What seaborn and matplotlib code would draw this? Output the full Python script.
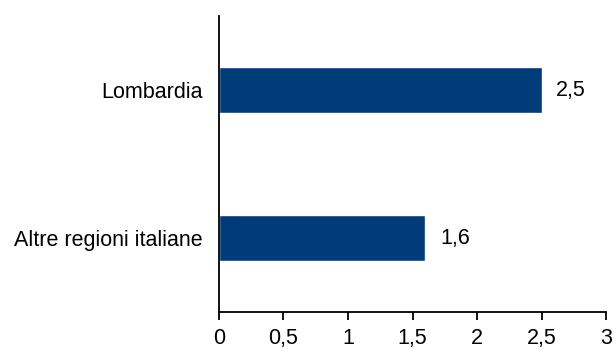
import matplotlib
matplotlib.use("Agg")
import matplotlib.pyplot as plt
import seaborn as sns
import pandas as pd
from matplotlib.ticker import FuncFormatter

# data
regions = ["Lombardia", "Altre regioni italiane"]
values = [2.5, 1.6]
value_labels = ["2,5", "1,6"]

df = pd.DataFrame({"region": regions, "value": values})

sns.set_style("white")
plt.rcParams['font.family'] = ['Liberation Sans', 'DejaVu Sans']
plt.rcParams['text.color'] = 'black'
plt.rcParams['xtick.color'] = 'black'
plt.rcParams['ytick.color'] = 'black'

fig = plt.figure(figsize=(6.16, 3.49), dpi=100)
ax = fig.add_axes([0.3555, 0.106, 0.6283, 0.848])

sns.barplot(data=df, x="value", y="region", color="#003B7A",
            width=0.31, saturation=1, ax=ax)

for p, lab in zip(ax.patches, value_labels):
    ax.annotate(lab, (p.get_width(), p.get_y() + p.get_height() / 2),
                xytext=(10.5, 0), textcoords="offset points",
                ha="left", va="center", fontsize=15.5, color="black")

ax.set_xlim(0, 3)
ax.set_ylim(1.5, -0.5)
ax.set_xticks([0, 0.5, 1, 1.5, 2, 2.5, 3])
ax.xaxis.set_major_formatter(FuncFormatter(lambda v, _: f"{v:g}".replace(".", ",")))
ax.set_xlabel("")
ax.set_ylabel("")

sns.despine(ax=ax)
for s in ["left", "bottom"]:
    ax.spines[s].set_color("black")
    ax.spines[s].set_linewidth(1.3)

ax.tick_params(axis="x", direction="out", length=5.5, width=1.3, color="black",
               labelsize=15.5, pad=6, bottom=True)
ax.tick_params(axis="y", length=0, labelsize=15.5, pad=12)

fig.savefig("out.png", dpi=100)
